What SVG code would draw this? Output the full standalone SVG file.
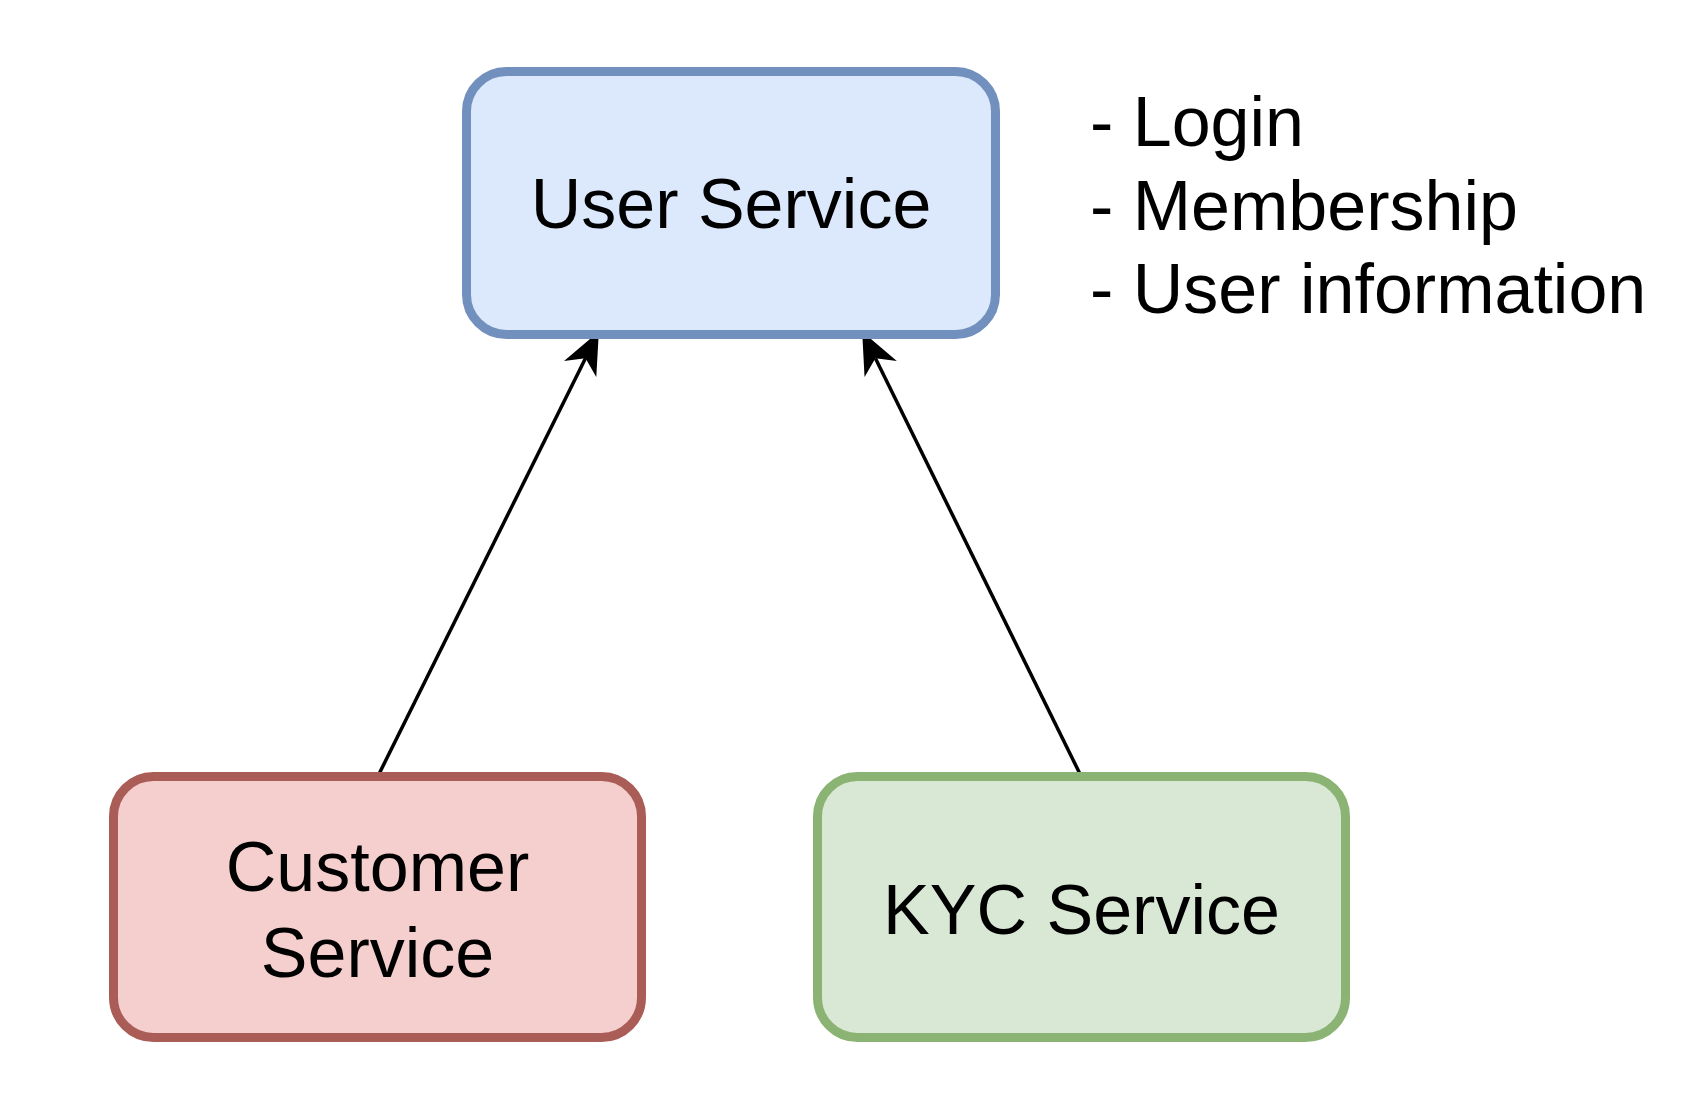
<svg xmlns="http://www.w3.org/2000/svg" width="1700" height="1094" viewBox="0 0 1700 1094">
<style>
.lbl{font-family:"Liberation Sans",Arial,sans-serif;font-size:70px;fill:#000}
.box{stroke-width:9}
.edge{stroke:#000;stroke-width:3.5;fill:none}
</style>
<defs>
<marker id="arr" viewBox="0 0 42 36" markerWidth="42" markerHeight="36" refX="12" refY="18" orient="auto" markerUnits="userSpaceOnUse">
<path d="M42,18 L0,0 L12,18 L0,36 Z" fill="#000"/>
</marker>
</defs>
<rect width="1700" height="1094" fill="#fff"/>
<g id="edges">
<path class="edge" d="M378,776 L585.5,358.3" marker-end="url(#arr)"/>
<path class="edge" d="M1081,776 L875.4,358.3" marker-end="url(#arr)"/>
</g>
<g id="user-service">
<rect class="box" x="466.5" y="71.5" width="529" height="263" rx="40" fill="#dce8fb" stroke="#7190bd"/>
<text class="lbl" x="731" y="228" text-anchor="middle">User Service</text>
</g>
<g id="customer-service">
<rect class="box" x="113.5" y="776.5" width="528" height="261" rx="40" fill="#f4cfcd" stroke="#aa5c56"/>
<text class="lbl" x="377.5" y="891" text-anchor="middle">Customer</text>
<text class="lbl" x="377.5" y="977" text-anchor="middle">Service</text>
</g>
<g id="kyc-service">
<rect class="box" x="817.5" y="776.5" width="528" height="261" rx="40" fill="#d9e8d5" stroke="#8bb373"/>
<text class="lbl" x="1081.5" y="934" text-anchor="middle">KYC Service</text>
</g>
<g id="notes">
<text class="lbl" x="1090" y="146">- Login</text>
<text class="lbl" x="1090" y="230">- Membership</text>
<text class="lbl" x="1090" y="313">- User information</text>
</g>
</svg>
